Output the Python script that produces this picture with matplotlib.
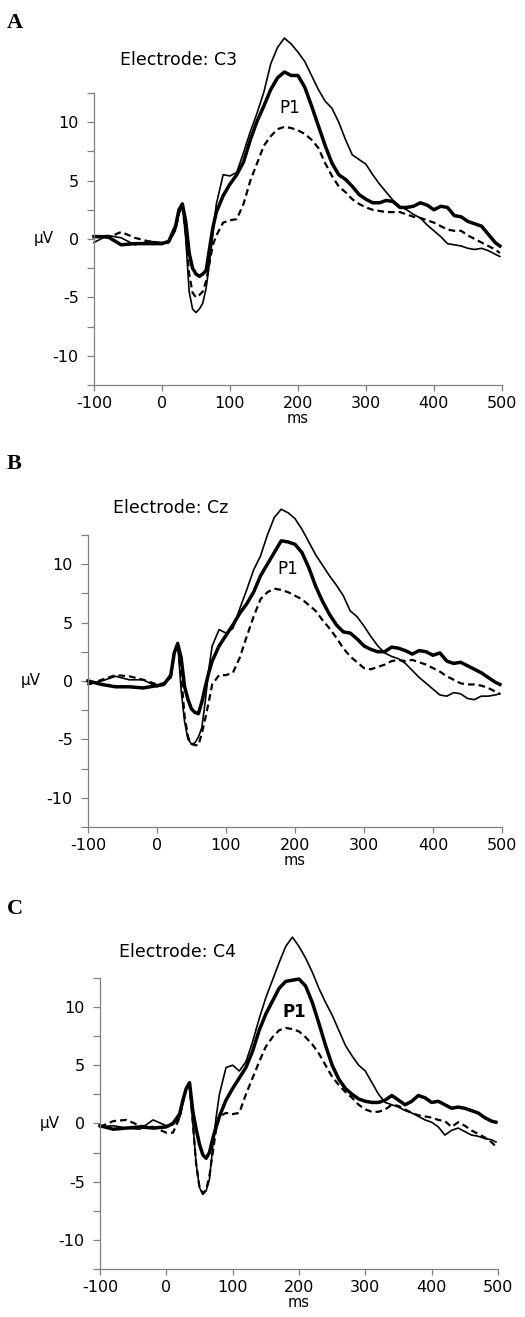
import matplotlib.pyplot as plt
from matplotlib.ticker import MultipleLocator

plt.rcParams["axes.unicode_minus"] = False

# time axis (ms), shared by all traces
T = [-100, -80, -60, -40, -20, 0, 10, 20, 25, 30, 35, 40, 45, 50, 55, 60, 65,
     70, 75, 80, 90, 100, 110, 120, 130, 140, 150, 160, 170, 180, 190, 200,
     210, 220, 230, 240, 250, 260, 270, 280, 290, 300, 310, 320, 330, 340,
     350, 360, 370, 380, 390, 400, 410, 420, 430, 440, 450, 460, 470, 480,
     490, 497]

# Electrode C3 (µV)
C3_THIN = [-0.3, 0.3, 0.1, -0.5, -0.2, -0.3, -0.3, 0.8, 2.2, 3.0, 0.0, -4.5,
           -6.0, -6.3, -6.0, -5.5, -4.2, -2.0, 0.5, 3.0, 5.5, 5.4, 5.7, 7.4,
           9.2, 10.8, 12.6, 15.0, 16.4, 17.2, 16.7, 16.0, 15.2, 14.0, 12.8,
           11.8, 11.2, 10.0, 8.5, 7.2, 6.8, 6.4, 5.5, 4.7, 4.0, 3.3, 2.8,
           2.5, 2.1, 1.8, 1.2, 0.7, 0.2, -0.4, -0.5, -0.6, -0.8, -0.9, -0.8,
           -1.0, -1.3, -1.5]
C3_THICK = [0.2, 0.2, -0.5, -0.4, -0.4, -0.4, -0.2, 1.1, 2.5, 3.0, 1.5, -1.2,
            -2.5, -3.0, -3.2, -3.0, -2.7, -0.8, 1.0, 2.3, 3.7, 4.7, 5.5, 6.6,
            8.5, 10.1, 11.4, 12.8, 13.8, 14.3, 14.0, 14.0, 13.0, 11.4, 9.7,
            8.0, 6.5, 5.5, 5.1, 4.5, 3.8, 3.4, 3.1, 3.1, 3.3, 3.2, 2.7, 2.7,
            2.8, 3.1, 2.9, 2.5, 2.8, 2.7, 2.0, 1.9, 1.5, 1.3, 1.1, 0.4, -0.3,
            -0.6]
C3_DASHED = [0.2, 0.1, 0.6, 0.1, -0.2, -0.4, -0.3, 0.8, 2.2, 2.8, 0.5, -3.0,
             -4.6, -5.0, -4.8, -4.5, -3.6, -2.0, -0.5, 0.3, 1.4, 1.6, 1.7, 3.0,
             5.0, 6.5, 8.0, 8.8, 9.4, 9.6, 9.5, 9.3, 9.0, 8.5, 7.8, 6.5, 5.4,
             4.5, 4.0, 3.4, 3.0, 2.7, 2.5, 2.4, 2.3, 2.3, 2.3, 2.1, 1.9, 1.8,
             1.6, 1.4, 1.1, 0.8, 0.7, 0.7, 0.3, 0.0, -0.3, -0.6, -0.9, -1.2]

# Electrode Cz (µV)
CZ_THIN = [-0.3, 0.0, 0.4, 0.1, 0.1, -0.5, -0.3, 0.3, 2.5, 3.3, -0.8, -3.5,
           -5.0, -5.4, -5.3, -4.8, -4.0, -1.7, 1.0, 3.0, 4.4, 4.1, 4.5, 6.2,
           7.8, 9.5, 10.7, 12.5, 14.0, 14.7, 14.4, 13.9, 13.0, 11.9, 10.8,
           9.9, 9.0, 8.2, 7.3, 6.0, 5.5, 4.7, 3.8, 3.0, 2.4, 2.1, 1.9, 1.5,
           0.9, 0.3, -0.2, -0.7, -1.2, -1.3, -1.0, -1.1, -1.5, -1.6, -1.3,
           -1.3, -1.2, -1.1]
CZ_THICK = [0.0, -0.3, -0.5, -0.5, -0.6, -0.4, -0.3, 0.5, 2.4, 3.2, 2.0, -0.5,
            -1.6, -2.4, -2.7, -2.8, -1.8, -0.5, 0.7, 1.7, 3.0, 3.9, 4.8, 5.8,
            6.6, 7.6, 9.0, 10.0, 11.0, 12.0, 11.9, 11.7, 11.0, 9.7, 8.1, 6.8,
            5.7, 4.8, 4.2, 4.1, 3.6, 3.0, 2.7, 2.5, 2.5, 2.9, 2.8, 2.6, 2.3,
            2.6, 2.5, 2.2, 2.4, 1.7, 1.5, 1.6, 1.3, 1.0, 0.7, 0.3, -0.1, -0.3]
CZ_DASHED = [-0.3, 0.1, 0.5, 0.4, 0.1, -0.3, -0.2, 0.3, 2.5, 3.2, 0.5, -3.0,
             -4.8, -5.4, -5.5, -5.5, -4.5, -3.2, -1.8, -0.3, 0.5, 0.5, 0.7,
             2.0, 3.8, 5.5, 7.0, 7.6, 7.9, 7.8, 7.6, 7.3, 7.0, 6.5, 6.0, 5.2,
             4.5, 3.7, 2.8, 2.1, 1.6, 1.1, 1.0, 1.2, 1.4, 1.7, 1.8, 1.7, 1.8,
             1.6, 1.4, 1.1, 0.8, 0.4, 0.1, -0.2, -0.3, -0.3, -0.4, -0.6, -0.9,
             -1.1]

# Electrode C4 (µV)
C4_THIN = [-0.3, -0.2, -0.4, -0.5, 0.3, -0.2, -0.1, 0.5, 1.8, 3.0, 3.3, 0.0,
           -3.5, -5.5, -6.1, -5.8, -4.8, -2.0, 0.5, 2.5, 4.8, 5.0, 4.5, 5.3,
           7.0, 9.0, 10.8, 12.3, 13.8, 15.2, 16.0, 15.2, 14.2, 13.0, 11.6,
           10.4, 9.3, 8.0, 6.7, 5.8, 5.0, 4.5, 3.5, 2.5, 1.8, 1.6, 1.4, 1.1,
           0.9, 0.6, 0.3, 0.1, -0.3, -1.0, -0.6, -0.4, -0.7, -1.0, -1.1, -1.3,
           -1.4, -1.6]
C4_THICK = [-0.2, -0.5, -0.4, -0.3, -0.4, -0.3, 0.0, 0.8, 2.0, 3.0, 3.5, 1.0,
            -0.5, -1.8, -2.7, -3.0, -2.5, -1.3, -0.3, 0.6, 2.0, 3.0, 3.9, 4.8,
            6.2, 8.0, 9.4, 10.5, 11.6, 12.2, 12.3, 12.4, 11.8, 10.4, 8.6, 6.7,
            5.0, 3.8, 3.0, 2.5, 2.1, 1.9, 1.8, 1.8, 2.0, 2.4, 2.0, 1.6, 1.9,
            2.4, 2.2, 1.8, 1.9, 1.6, 1.3, 1.4, 1.3, 1.1, 0.9, 0.5, 0.2, 0.1]
C4_DASHED = [-0.3, 0.2, 0.3, -0.2, -0.3, -0.8, -0.8, 0.5, 1.8, 3.0, 3.3, 0.0,
             -3.5, -5.5, -6.0, -5.7, -4.5, -2.5, -0.5, 0.6, 0.9, 0.8, 0.9, 2.5,
             3.9, 5.3, 6.6, 7.4, 8.0, 8.2, 8.1, 7.9, 7.4, 6.8, 6.0, 5.0, 4.0,
             3.3, 2.7, 2.2, 1.6, 1.2, 1.0, 1.0, 1.2, 1.6, 1.5, 1.2, 0.9, 0.7,
             0.6, 0.5, 0.3, 0.2, -0.3, 0.1, -0.2, -0.6, -0.9, -1.2, -1.6, -2.0]

PANELS = ["A", "B", "C"]
ELECTRODES = ["C3", "Cz", "C4"]
XTICKS = [-100, 0, 100, 200, 300, 400, 500]
YTICKS = [-10, -5, 0, 5, 10]

AXIS_GREY = "#808080"
FONT = "DejaVu Sans"

fig = plt.figure(figsize=(5.25, 13.17), dpi=100)

rects = [
    [0.179, 0.7077, 0.777, 0.2217],
    [0.1676, 0.3721, 0.7886, 0.2217],
    [0.1905, 0.0365, 0.758, 0.221],
]
letter_y = [0.990, 0.6555, 0.3175]
electrode_pos = [(-62, 15.3), (-64, 14.8), (-72, 14.7)]
p1_pos = [(188, 11.2), (190, 9.6), (193, 9.6)]
uv_offset = [-36, -41, -36]

traces = [
    (C3_THIN, C3_THICK, C3_DASHED),
    (CZ_THIN, CZ_THICK, CZ_DASHED),
    (C4_THIN, C4_THICK, C4_DASHED),
]

for i, (thin, thick, dashed) in enumerate(traces):
    ax = fig.add_axes(rects[i])
    ax.plot(T, dashed, color="black", lw=1.6, ls=(0, (3, 1.8)), clip_on=False)
    ax.plot(T, thin, color="black", lw=1.2, clip_on=False)
    ax.plot(T, thick, color="black", lw=2.5, clip_on=False)

    ax.set_xlim(-100, 500)
    ax.set_ylim(-12.5, 12.5)
    ax.set_xticks(XTICKS)
    ax.set_yticks(YTICKS)
    ax.yaxis.set_minor_locator(MultipleLocator(2.5))

    for side in ("top", "right"):
        ax.spines[side].set_visible(False)
    for side in ("left", "bottom"):
        ax.spines[side].set_color(AXIS_GREY)
        ax.spines[side].set_linewidth(0.9)

    ax.tick_params(axis="both", which="both", direction="out", color=AXIS_GREY,
                   width=0.9, labelsize=11.5, labelcolor="black")
    ax.tick_params(axis="y", which="both", length=5, pad=6)
    ax.tick_params(axis="x", which="major", length=4, pad=4)
    for lab in ax.get_xticklabels() + ax.get_yticklabels():
        lab.set_fontfamily(FONT)

    ax.set_xlabel("ms", fontsize=10.5, family=FONT, labelpad=0)
    ax.annotate("µV", xy=(0, 0), xycoords=("axes fraction", "data"),
                xytext=(uv_offset[i], 0), textcoords="offset points",
                ha="center", va="center", fontsize=11, family=FONT)

    ex, ey = electrode_pos[i]
    ax.text(ex, ey, f"Electrode: {ELECTRODES[i]}", fontsize=12.5, family=FONT,
            ha="left", va="center", clip_on=False)
    px, py = p1_pos[i]
    ax.text(px, py, "P1", fontsize=12, family=FONT, ha="center", va="center",
            fontweight="bold" if i == 2 else "normal")

    fig.text(0.013, letter_y[i], PANELS[i], fontsize=16, fontweight="bold",
             family="Liberation Serif", ha="left", va="top")

fig.savefig("out.png", dpi=100)
